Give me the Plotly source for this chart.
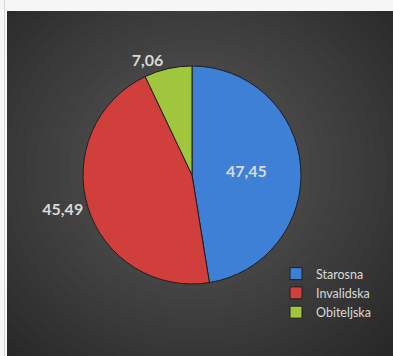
import plotly.graph_objects as go

# vrste mirovina i udjeli (%)
kategorije = ["Starosna", "Invalidska", "Obiteljska"]
udjeli = [47.45, 45.49, 7.06]
boje = ["#3d80d6", "#d13f3d", "#9fc63c"]
pozicije_teksta = ["inside", "outside", "outside"]

W, H = 393, 356
R = 109

fig = go.Figure()

fig.add_trace(go.Pie(
    labels=kategorije,
    values=udjeli,
    sort=False,
    direction="clockwise",
    rotation=0,
    texttemplate="%{value:.2f}",
    textposition=pozicije_teksta,
    insidetextorientation="horizontal",
    textfont=dict(family="Lato", size=16, color="#d9d9d9", weight="bold"),
    marker=dict(colors=boje, line=dict(color="#1e1e1e", width=1)),
    domain=dict(x=[(192 - R) / W, (192 + R) / W],
                y=[(H - 175 - R) / H, (H - 175 + R) / H]),
    hoverinfo="label+value",
))

# blagi radijalni prijelaz na tamnoj pozadini
shapes = []
cx, cy = 195 / W, (H - 170) / H
for i in range(24):
    rx = (280 - i * 11) / W
    ry = (260 - i * 10) / H
    shapes.append(dict(type="circle", xref="paper", yref="paper",
                       x0=cx - rx, x1=cx + rx,
                       y0=cy - ry, y1=cy + ry,
                       fillcolor="rgba(255,255,255,0.011)",
                       line=dict(width=0), layer="below"))
# svijetli rub gore i lijevo
shapes += [dict(type="rect", xref="paper", yref="paper",
                x0=-1, x1=7 / W, y0=-1, y1=2,
                fillcolor="#f7f7f7", line=dict(width=0), layer="below"),
           dict(type="rect", xref="paper", yref="paper",
                x0=-1, x1=2, y0=1 - 11 / H, y1=2,
                fillcolor="#f7f7f7", line=dict(width=0), layer="below"),
           dict(type="line", xref="paper", yref="paper",
                x0=4.5 / W, x1=4.5 / W, y0=-1, y1=2,
                line=dict(color="#d6d6d6", width=1), layer="below")]

fig.update_layout(
    width=W,
    height=H,
    margin=dict(l=0, r=0, t=0, b=0),
    paper_bgcolor="#262626",
    separators=",.",
    shapes=shapes,
    showlegend=True,
    legend=dict(
        x=276 / W, y=(H - 293) / H,
        xanchor="left", yanchor="middle",
        bgcolor="rgba(0,0,0,0)",
        font=dict(family="Lato", size=12.5, color="#d9d9d9"),
        itemwidth=30,
    ),
)

fig.write_html(
    "out.html",
    config={"displayModeBar": False},
    post_script=(
        "document.body.style.margin='0';"
        "document.body.style.overflow='hidden';"
        "document.documentElement.style.overflow='hidden';"
        "document.body.style.background='#262626';"
    ),
)
